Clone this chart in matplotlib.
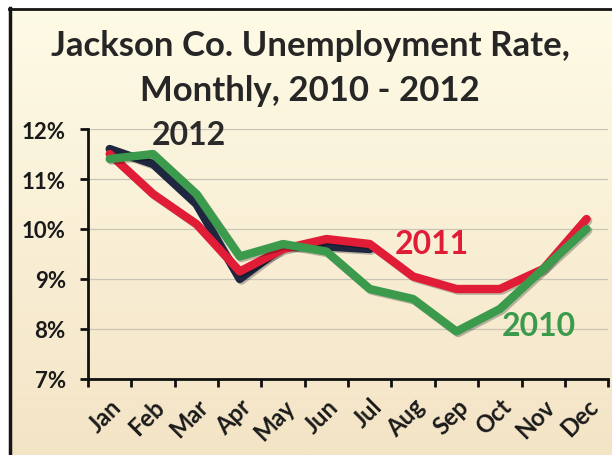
import matplotlib
matplotlib.use("Agg")
import matplotlib.pyplot as plt
import matplotlib.patheffects as pe
import numpy as np

plt.rcParams['font.family'] = ['Lato', 'DejaVu Sans']

months = ["Jan", "Feb", "Mar", "Apr", "May", "Jun",
          "Jul", "Aug", "Sep", "Oct", "Nov", "Dec"]
rate_2010 = [11.4, 11.5, 10.7, 9.45, 9.7, 9.55, 8.8, 8.6, 7.95, 8.4, 9.2, 10.0]
rate_2011 = [11.5, 10.7, 10.1, 9.15, 9.6, 9.8, 9.7, 9.05, 8.8, 8.8, 9.2, 10.2]
rate_2012 = [11.6, 11.3, 10.5, 9.0, 9.65, 9.65, 9.6]
pct_ticks = [7, 8, 9, 10, 11, 12]

navy = "#1e2640"
red = "#e01c36"
green = "#3b9a4c"

fig = plt.figure(figsize=(6.12, 4.56), dpi=100)

# cream gradient background with a dark frame on top / left
bg = fig.add_axes([0.015, 0, 0.985, 0.98])
grad = np.linspace(0, 1, 256).reshape(-1, 1)
cmap = matplotlib.colors.LinearSegmentedColormap.from_list("cream", ["#fefbe6", "#f4e4c6"])
bg.imshow(grad, aspect="auto", cmap=cmap, extent=[0, 1, 0, 1], origin="upper")
bg.set_xlim(0, 1)
bg.set_ylim(0, 1)
bg.axis("off")
bg.plot([0.002, 0.002], [0, 1], color="#151515", lw=2.5, clip_on=False)
bg.plot([0, 1], [0.998, 0.998], color="#151515", lw=2.0, clip_on=False)

fig.text(0.507, 0.90, "Jackson Co. Unemployment Rate,", ha="center", va="center",
         fontsize=25, fontweight="bold", color="#262626")
fig.text(0.507, 0.80, "Monthly, 2010 - 2012", ha="center", va="center",
         fontsize=25, fontweight="bold", color="#262626")

ax = fig.add_axes([0.1438, 0.1667, 0.85, 0.5482])
ax.patch.set_alpha(0)

x = np.arange(len(months))
shadow = [pe.SimpleLineShadow(offset=(1.2, -1.2), alpha=0.25), pe.Normal()]
ax.plot(x[:len(rate_2012)], rate_2012, color=navy, lw=6, solid_joinstyle="round",
        solid_capstyle="round", path_effects=shadow, zorder=3)
ax.plot(x, rate_2011, color=red, lw=6, solid_joinstyle="round",
        solid_capstyle="round", path_effects=shadow, zorder=4)
ax.plot(x, rate_2010, color=green, lw=6, solid_joinstyle="round",
        solid_capstyle="round", path_effects=shadow, zorder=5)

ax.text(1.82, 11.9, "2012", color="#2a2a2a", fontsize=23, fontweight="bold",
        ha="center", va="center", zorder=6)
ax.text(7.44, 9.7, "2011", color=red, fontsize=23, fontweight="bold",
        ha="center", va="center", zorder=6)
ax.text(9.9, 8.06, "2010", color=green, fontsize=23, fontweight="bold",
        ha="center", va="center", zorder=6)

ax.set_xlim(-0.5, 11.5)
ax.set_ylim(7, 12)
ax.set_yticks(pct_ticks)
ax.set_yticklabels([f"{v}%" for v in pct_ticks], fontsize=16, fontweight="bold",
                   color="#1a1a1a")
ax.set_xticks(x)
ax.set_xticklabels(months, rotation=45, ha="right", rotation_mode="anchor",
                   fontsize=17, fontweight="bold", color="#1a1a1a")
ax.set_xticks(np.arange(-0.5, 12, 1), minor=True)
ax.tick_params(axis="x", which="major", length=0, pad=11)
ax.tick_params(axis="x", which="minor", length=6, width=2, direction="out", color="#111111")
ax.tick_params(axis="y", length=6, width=2, direction="out", color="#111111", pad=10)

ax.grid(axis="y", color="#c9c4b6", lw=0.9)
ax.set_axisbelow(True)
for side in ["top", "right"]:
    ax.spines[side].set_visible(False)
ax.spines["left"].set_linewidth(2)
ax.spines["bottom"].set_linewidth(2)
ax.spines["left"].set_color("#111111")
ax.spines["bottom"].set_color("#111111")

fig.savefig("out.png", dpi=100)
